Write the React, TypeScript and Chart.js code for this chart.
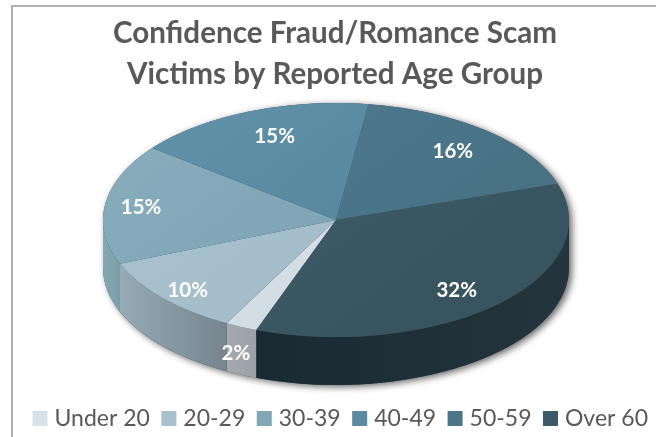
import React, { useEffect, useRef } from "react";
import { Chart, registerables } from "chart.js";

Chart.register(...registerables);

const categories = ["Under 20", "20-29", "30-39", "40-49", "50-59", "Over 60"];
const shares = [2, 10, 15, 15, 16, 32];
const titleLines = ["Confidence Fraud/Romance Scam", "Victims by Reported Age Group"];

const legendColors = ["#d6e2e8", "#a6c0cc", "#82a7b7", "#5b8ba1", "#4c7688", "#3c5a68"];
const topLight = ["#dde6eb", "#a9c3cf", "#86abbb", "#5e90a8", "#4e7a8e", "#3f5e6b"];
const topDark = ["#ccd9e0", "#9fb9c6", "#7ba1b2", "#54839a", "#477082", "#38545f"];
const sideLeft = ["#a3a9ae", "#95abb6", "#84a9b3", "#5b8aa0", "#476d7e", "#1a2a32"];
const sideRight = ["#9ba1a6", "#76858e", "#7b9da8", "#5b8aa0", "#476d7e", "#24353e"];
const labelReach = [1.21, 0.87, 0.845, 0.77, 0.78, 0.79];
const labelTurn = [-3.2, -1, 0, 2, 0, 3];

const CX = 336;
const CY = 220;
const RX = 233;
const RY = 117;
const DEPTH = 48;
const FONT = "Lato, 'Open Sans', sans-serif";

function norm(a: number) {
  const t = Math.PI * 2;
  return ((a % t) + t) % t;
}

const tiltPlugin = {
  id: "tilt",
  afterLayout(chart: any) {
    // centre the title on the frame rather than on the widened legend band
    chart.titleBlock.left -= 13.5;
    chart.titleBlock.right -= 13.5;
  },
  beforeDraw(chart: any) {
    const { ctx, width, height } = chart;
    ctx.save();
    ctx.fillStyle = "#ffffff";
    ctx.fillRect(0, 0, width, height);
    ctx.strokeStyle = "#b0b0b0";
    ctx.lineWidth = 2;
    ctx.beginPath();
    ctx.moveTo(12, height);
    ctx.lineTo(12, 6);
    ctx.lineTo(width, 6);
    ctx.stroke();
    ctx.restore();
  },
  beforeDatasetsDraw(chart: any) {
    const { ctx } = chart;
    const arcs = chart.getDatasetMeta(0).data;
    // soft shadow under the whole disc
    ctx.save();
    ctx.shadowColor = "rgba(0,0,0,0.6)";
    ctx.shadowBlur = 7;
    ctx.shadowOffsetX = 3;
    ctx.shadowOffsetY = 2;
    ctx.fillStyle = "#3a4a52";
    ctx.beginPath();
    ctx.ellipse(CX, CY + DEPTH, RX, RY, 0, 0, Math.PI);
    ctx.ellipse(CX, CY, RX, RY, 0, Math.PI, Math.PI * 2);
    ctx.closePath();
    ctx.fill();
    ctx.restore();
    // side wall, one piece per slice, from the arc geometry
    arcs.forEach((arc: any, i: number) => {
      const a0 = norm(arc.startAngle);
      const a1 = a0 + (arc.endAngle - arc.startAngle);
      const parts: [number, number][] = [
        [a0, a1],
        [a0 - Math.PI * 2, a1 - Math.PI * 2],
      ];
      parts.forEach(([s, e]) => {
        const from = Math.max(s, 0);
        const to = Math.min(e, Math.PI);
        if (to <= from) return;
        const x0 = CX + RX * Math.cos(from);
        const x1 = CX + RX * Math.cos(to);
        const g = ctx.createLinearGradient(Math.min(x0, x1), 0, Math.max(x0, x1), 0);
        g.addColorStop(0, sideLeft[i]);
        g.addColorStop(1, sideRight[i]);
        ctx.fillStyle = g;
        ctx.beginPath();
        ctx.ellipse(CX, CY, RX, RY, 0, from, to);
        ctx.ellipse(CX, CY + DEPTH, RX, RY, 0, to, from, true);
        ctx.closePath();
        ctx.fill();
      });
    });
    // flatten the circle of the chart onto the top face
    const first = arcs[0];
    ctx.save();
    ctx.translate(CX, CY);
    ctx.scale(1, RY / RX);
    ctx.translate(-first.x, -first.y);
  },
  afterDatasetsDraw(chart: any) {
    const { ctx } = chart;
    ctx.restore();
    const arcs = chart.getDatasetMeta(0).data;
    ctx.save();
    ctx.fillStyle = "#ffffff";
    ctx.font = `bold 20.5px ${FONT}`;
    ctx.textAlign = "center";
    ctx.textBaseline = "middle";
    arcs.forEach((arc: any, i: number) => {
      const mid = (arc.startAngle + arc.endAngle) / 2 + (labelTurn[i] * Math.PI) / 180;
      const x = CX + RX * labelReach[i] * Math.cos(mid);
      const y = CY + RY * labelReach[i] * Math.sin(mid);
      ctx.fillText(shares[i] + "%", x, y + 1);
    });
    ctx.restore();
  },
  afterDraw(chart: any) {
    const { ctx, legend } = chart;
    ctx.save();
    legend.legendHitBoxes.forEach((box: any, i: number) => {
      ctx.fillStyle = legendColors[i];
      ctx.fillRect(box.left, box.top + box.height / 2 - 7.5, 15, 15);
    });
    ctx.restore();
  },
};

export default function App() {
  const ref = useRef<HTMLCanvasElement>(null);
  useEffect(() => {
    const canvas = ref.current!;
    const ctx = canvas.getContext("2d")!;
    const fills = categories.map((_, i) => {
      const g = ctx.createLinearGradient(0, 0, 656, 437);
      g.addColorStop(0.25, topLight[i]);
      g.addColorStop(0.75, topDark[i]);
      return g;
    });
    const chart = new Chart(canvas, {
      type: "pie",
      data: {
        labels: categories,
        datasets: [
          {
            data: shares,
            backgroundColor: fills,
            hoverBackgroundColor: fills,
            borderWidth: 0,
            clip: false,
          } as any,
        ],
      },
      options: {
        responsive: false,
        animation: false,
        rotation: 200,
        radius: RX,
        layout: { padding: { left: 21, right: -20, top: 7, bottom: -3 } },
        plugins: {
          tooltip: { enabled: false },
          title: {
            display: true,
            text: titleLines,
            color: "#595959",
            font: { family: FONT, size: 29.6, weight: "bold", lineHeight: 1.39 },
            padding: { top: 6, bottom: 0 },
          },
          legend: {
            display: true,
            position: "bottom",
            align: "start",
            labels: {
              color: "#595959",
              font: { family: FONT, size: 23 },
              boxWidth: 10.5,
              boxHeight: 15,
              padding: 11.5,
              generateLabels: (c: any) =>
                c.data.labels.map((text: string, i: number) => ({
                  text,
                  index: i,
                  fillStyle: "rgba(0,0,0,0)",
                  strokeStyle: "rgba(0,0,0,0)",
                  lineWidth: 0,
                  fontColor: "#595959",
                })),
            },
          },
        },
      },
      plugins: [tiltPlugin],
    } as any);
    return () => chart.destroy();
  }, []);
  return (
    <div style={{ position: "fixed", left: 0, top: 0, width: 656, height: 437 }}>
      <canvas ref={ref} width={656} height={437} style={{ display: "block" }} />
    </div>
  );
}
